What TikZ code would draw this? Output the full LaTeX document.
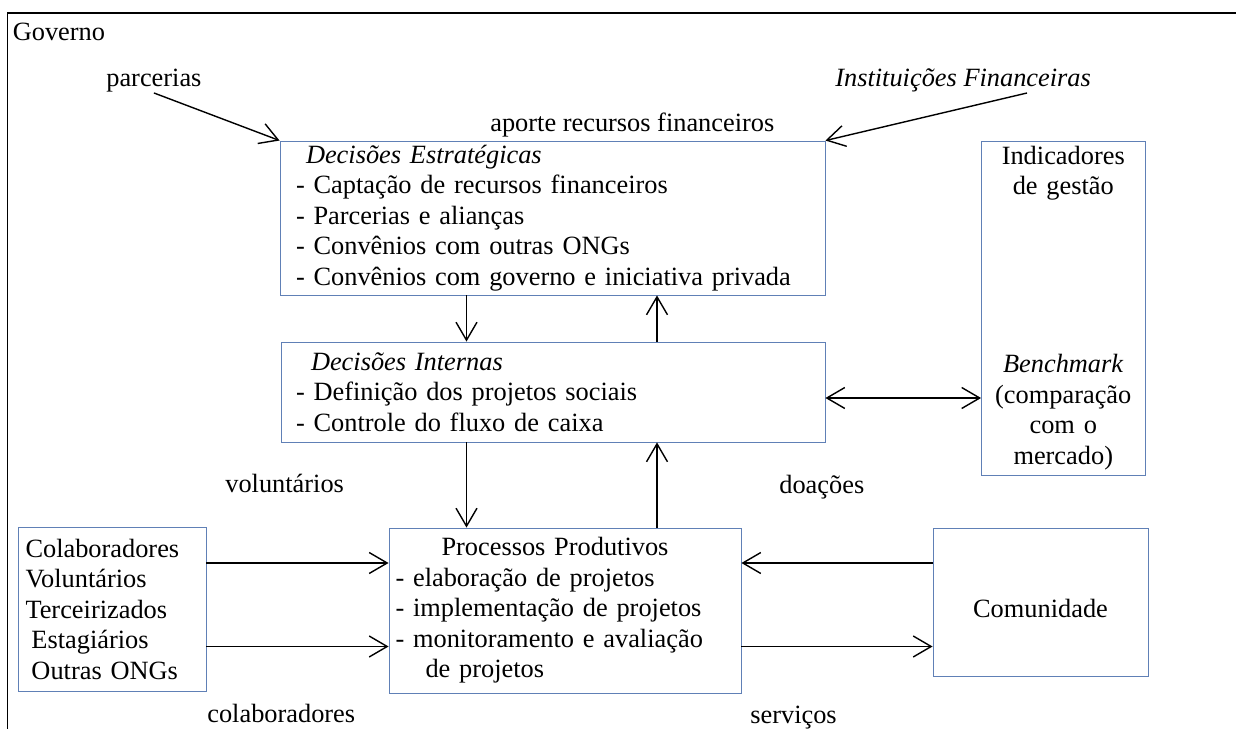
\documentclass[tikz,border=0pt]{standalone}
\usepackage{fontspec}
\setmainfont{Liberation Serif}
\usetikzlibrary{arrows.meta}
\definecolor{boxblue}{RGB}{96,128,182}

\begin{document}
\begin{tikzpicture}[
 every node/.style={font=\fontsize{15}{17.36}\selectfont,inner sep=0pt},
 box/.style={draw=boxblue,line width=0.5pt,inner ysep=0pt},
 arr/.style={->,line width=0.8pt},
 >={Straight Barb[length=3.6mm,width=4.2mm]}
]
\useasboundingbox (0,0) rectangle (24.72,14.58);
\draw[line width=1.1pt] (24.72,14.32) -- (0.15,14.32) -- (0.15,0);

\node[anchor=base west] (gov) at (0.25,13.76) {Governo};
\node[anchor=base west] (parc) at (2.12,12.84) {parcerias};
\node[anchor=base west] (inst) at (16.70,12.84) {\textit{Instituições Financeiras}};
\node[anchor=base west] (aporte) at (9.80,11.94) {aporte recursos financeiros};
\node[anchor=base west] (volunt) at (4.50,4.72) {voluntários};
\node[anchor=base west] (doac) at (15.58,4.70) {doações};
\node[anchor=base west] (colabl) at (4.14,0.14) {colaboradores};
\node[anchor=base west] (serv) at (15.00,0.12) {serviços};

\node[box,align=left,minimum width=10.90cm,minimum height=3.08cm,inner xsep=0.32cm,text width=10.26cm] (strat) at (11.05,10.22)
 {\hspace*{0.2cm}\textit{Decisões Estratégicas}\\- Captação de recursos financeiros\\- Parcerias e alianças\\- Convênios com outras ONGs\\- Convênios com governo e iniciativa privada};
\node[box,align=left,minimum width=10.88cm,minimum height=2cm,inner xsep=0.3cm,text width=10.28cm] (intern) at (11.06,6.74)
 {\hspace*{0.3cm}\textit{Decisões Internas}\\- Definição dos projetos sociais\\- Controle do fluxo de caixa};
\node[box,align=center,minimum width=3.27cm,minimum height=6.68cm,inner xsep=0.1cm,text width=3.07cm] (indic) at (21.265,8.42)
 {Indicadores\\de gestão\\[2.95cm]\textit{Benchmark}\\(comparação\\com o\\mercado)};
\node[box,align=left,minimum width=3.75cm,minimum height=3.28cm,inner xsep=0.14cm,text width=3.47cm] (colab) at (2.245,2.40)
 {Colaboradores\\Voluntários\\Terceirizados\\\hspace*{0.12cm}Estagiários\\\hspace*{0.12cm}Outras ONGs};
\node[box,align=left,minimum width=7.04cm,minimum height=3.30cm,inner xsep=0.13cm,text width=6.78cm] (proc) at (11.30,2.37)
 {\hspace*{0.92cm}Processos Produtivos\\- elaboração de projetos\\- implementação de projetos\\- monitoramento e avaliação\\\hspace*{0.6cm}de projetos};
\node[box,align=center,minimum width=4.30cm,minimum height=2.96cm,text height=0.64cm,text depth=0pt] (comun) at (20.81,2.54) {Comunidade};

\coordinate (instStart) at (20.54,12.72);
\coordinate (xl) at (9.33,0);
\coordinate (xr) at (13.14,0);
\coordinate (ybench) at (0,6.62);
\coordinate (yt) at (0,3.32);
\coordinate (yb) at (0,1.65);

\draw[arr] (parc.south) -- (strat.north west);
\draw[arr] (instStart) -- (strat.north east);
\foreach \a/\b in {strat/intern,intern/proc}
\draw[arr] (\a.south -| xl) -- (\b.north -| xl);
\foreach \a/\b in {proc/intern,intern/strat}
\draw[arr] (\a.north -| xr) -- (\b.south -| xr);
\draw[arr,<->] (intern.east |- ybench) -- (indic.west |- ybench);
\foreach \y in {yt,yb}
\draw[arr] (colab.east |- \y) -- (proc.west |- \y);
\draw[arr] (comun.west |- yt) -- (proc.east |- yt);
\draw[arr] (proc.east |- yb) -- (comun.west |- yb);
\end{tikzpicture}
\end{document}
